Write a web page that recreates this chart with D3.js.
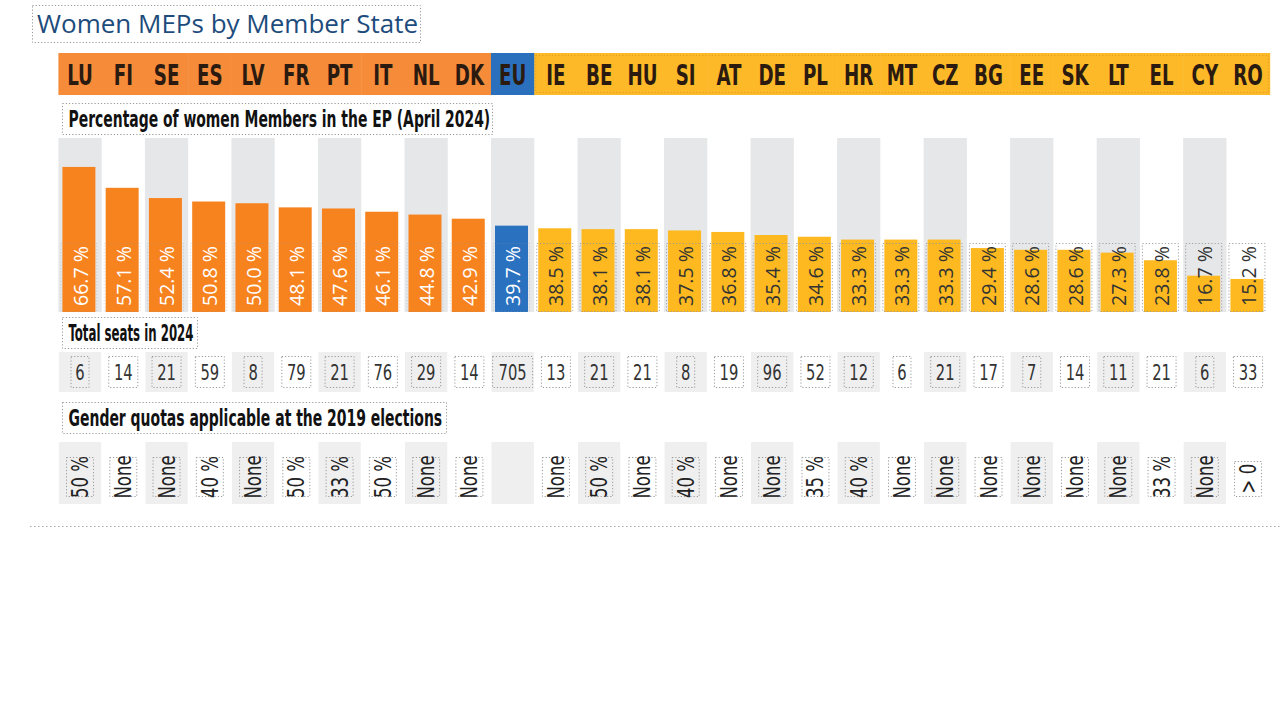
<!DOCTYPE html>
<html>
<head>
<meta charset="utf-8">
<script src="https://cdn.jsdelivr.net/npm/d3@7"></script>
<style>
  body { margin: 0; background: #fff; }
  svg { display: block; }
  .cond { font-family: "Liberation Sans Narrow", "DejaVu Sans Condensed", sans-serif; }
</style>
</head>
<body>
<svg id="chart" width="1280" height="720"></svg>
<script>
// data
var countries = ["LU","FI","SE","ES","LV","FR","PT","IT","NL","DK","EU","IE","BE","HU","SI","AT","DE","PL","HR","MT","CZ","BG","EE","SK","LT","EL","CY","RO"];
var groups    = ["top","top","top","top","top","top","top","top","top","top","eu","low","low","low","low","low","low","low","low","low","low","low","low","low","low","low","low","low"];
var pct       = [66.7,57.1,52.4,50.8,50.0,48.1,47.6,46.1,44.8,42.9,39.7,38.5,38.1,38.1,37.5,36.8,35.4,34.6,33.3,33.3,33.3,29.4,28.6,28.6,27.3,23.8,16.7,15.2];
var seats     = [6,14,21,59,8,79,21,76,29,14,705,13,21,21,8,19,96,52,12,6,21,17,7,14,11,21,6,33];
var quotas    = ["50 %","None","None","40 %","None","50 %","33 %","50 %","None","None","","None","50 %","None","40 %","None","None","35 %","40 %","None","None","None","None","None","None","33 %","None","> 0"];

var rows = countries.map(function(c, i){
  return {code: c, group: groups[i], pct: pct[i], seats: seats[i], quota: quotas[i], i: i};
});

var headColor = d3.scaleOrdinal().domain(["top","eu","low"]).range(["#f68b3a","#2b70bd","#fdb928"]);
var barColor  = d3.scaleOrdinal().domain(["top","eu","low"]).range(["#f7831f","#2a71bf","#fdb91f"]);
var labColor  = d3.scaleOrdinal().domain(["top","eu","low"]).range(["#ffffff","#ffffff","#333333"]);

var svg = d3.select("#chart");

var x = d3.scaleBand().domain(countries).range([58.4, 1269.7]).padding(0);
var y = d3.scaleLinear().domain([0, 80]).range([312, 138]);

var dotted = function(sel){ sel.attr("fill","none").attr("stroke","#999").attr("stroke-width",1).attr("stroke-dasharray","1.2,2"); };

// title
svg.append("rect").attr("x",32.5).attr("y",5.5).attr("width",388).attr("height",37).call(dotted);
svg.append("text").attr("x",37).attr("y",33).attr("font-family","'Open Sans', sans-serif")
  .attr("font-size",26).attr("fill","#1d4c7c").text("Women MEPs by Member State");

// header band with codes
svg.append("g").selectAll("rect").data(rows).enter().append("rect")
  .attr("x", function(d){ return x(d.code); })
  .attr("y", 53).attr("width", x.bandwidth() + 0.5).attr("height", 42)
  .attr("fill", function(d){ return headColor(d.group); });
svg.append("rect").attr("x", x("IE")+1.5).attr("y",55.5).attr("width", 1267 - x("IE")).attr("height",37)
  .call(dotted).attr("stroke","#e0a020");

svg.append("g").selectAll("g").data(rows).enter().append("g")
  .attr("transform", function(d){ return "translate(" + (x(d.code) + x.bandwidth()/2) + ",85) scale(0.7,1)"; })
  .append("text").attr("class","cond").attr("text-anchor","middle")
  .attr("font-size",29).attr("font-weight","bold").attr("fill","#2a1a10")
  .text(function(d){ return d.code; });

// section label helper: squeeze text to the width seen in the picture
function sectionLabel(txt, x0, y0, w, tw){
  svg.append("rect").attr("x",x0).attr("y",y0).attr("width",w).attr("height",31).call(dotted);
  var g = svg.append("g");
  var t = g.append("text").attr("class","cond").attr("font-size",23).attr("font-weight","bold")
    .attr("fill","#111").text(txt);
  var k = tw / t.node().getComputedTextLength();
  g.attr("transform","translate(" + (x0+6) + "," + (y0+23) + ") scale(" + k + ",1)");
}

sectionLabel("Percentage of women Members in the EP (April 2024)", 62.5, 103.5, 430, 422);

// gray stripes behind alternate columns
var even = rows.filter(function(d){ return d.i % 2 === 0; });
svg.append("g").selectAll("rect").data(even).enter().append("rect")
  .attr("x", function(d){ return x(d.code); }).attr("y", y(80))
  .attr("width", x.bandwidth()).attr("height", y(0) - y(80))
  .attr("fill", "#e6e7e9");

// label boxes behind the bars
svg.append("g").selectAll("rect").data(rows.filter(function(d){ return d.group === "low"; })).enter().append("rect")
  .attr("x", function(d){ return x(d.code) + 2.5; }).attr("y", 243.5)
  .attr("width", 36).attr("height", 68)
  .attr("fill", function(d){ return d.i % 2 === 0 ? "#e6e7e9" : "#fff"; });

// bars
svg.append("g").selectAll("rect").data(rows).enter().append("rect")
  .attr("x", function(d){ return x(d.code) + 4; })
  .attr("y", function(d){ return y(d.pct); })
  .attr("width", 33)
  .attr("height", function(d){ return y(0) - y(d.pct); })
  .attr("fill", function(d){ return barColor(d.group); });

svg.append("g").selectAll("rect").data(rows).enter().append("rect")
  .attr("x", function(d){ return x(d.code) + 2.5; }).attr("y", 243.5)
  .attr("width", 36).attr("height", 68)
  .call(dotted).attr("stroke-opacity", function(d){ return d.group === "low" ? 0.9 : 0.35; });

// value labels, rotated
svg.append("g").selectAll("text").data(rows).enter().append("text")
  .attr("transform", function(d){ return "translate(" + (x(d.code) + x.bandwidth()/2 + 7.5) + ",306) rotate(-90)"; })
  .attr("font-family","'Open Sans', sans-serif").attr("font-size",19.5)
  .attr("fill", function(d){ return labColor(d.group); })
  .text(function(d){ return d3.format(".1f")(d.pct) + " %"; });

// seats
sectionLabel("Total seats in 2024", 62.5, 317.5, 135, 125);

svg.append("g").selectAll("rect").data(even).enter().append("rect")
  .attr("x", function(d){ return x(d.code) + 0.5; }).attr("y", 352)
  .attr("width", x.bandwidth() - 1).attr("height", 40)
  .attr("fill", "#efeff0");

var seatG = svg.append("g").selectAll("g").data(rows).enter().append("g")
  .attr("transform", function(d){ return "translate(" + (x(d.code) + x.bandwidth()/2) + ",372)"; });
seatG.append("rect")
  .attr("x", function(d){ return -(String(d.seats).length * 5.5 + 3.5); })
  .attr("y", -15.5)
  .attr("width", function(d){ return String(d.seats).length * 11 + 7; })
  .attr("height", 31).call(dotted);
seatG.append("g").attr("transform","scale(0.78,1)").append("text")
  .attr("class","cond").attr("text-anchor","middle").attr("y",7.5)
  .attr("font-size",21).attr("fill","#333")
  .text(function(d){ return d.seats; });

// quotas
sectionLabel("Gender quotas applicable at the 2019 elections", 62.5, 402.5, 384, 374);

svg.append("g").selectAll("rect").data(even).enter().append("rect")
  .attr("x", function(d){ return x(d.code) + 0.5; }).attr("y", 442)
  .attr("width", x.bandwidth() - 1).attr("height", 62)
  .attr("fill", "#efeff0");

var quotaG = svg.append("g").selectAll("g").data(rows.filter(function(d){ return d.quota !== ""; })).enter().append("g")
  .attr("transform", function(d){ return "translate(" + (x(d.code) + x.bandwidth()/2) + ",477)"; });
quotaG.append("rect")
  .attr("x", -13.5).attr("y", function(d){ return d.quota === "> 0" ? -15.5 : -19.5; })
  .attr("width", 27).attr("height", function(d){ return d.quota === "> 0" ? 35 : 39; }).call(dotted);
quotaG.append("g").attr("transform","rotate(-90) scale(0.8,1)").append("text")
  .attr("class","cond").attr("text-anchor","middle").attr("y",8)
  .attr("x", function(d){ return d.quota === "> 0" ? -2 : 0; })
  .attr("font-size",23).attr("fill","#222")
  .text(function(d){ return d.quota; });

// bottom rule
svg.append("line").attr("x1",30).attr("x2",1280).attr("y1",526.5).attr("y2",526.5)
  .attr("stroke","#aaa").attr("stroke-dasharray","1.5,2.5");
</script>
</body>
</html>
